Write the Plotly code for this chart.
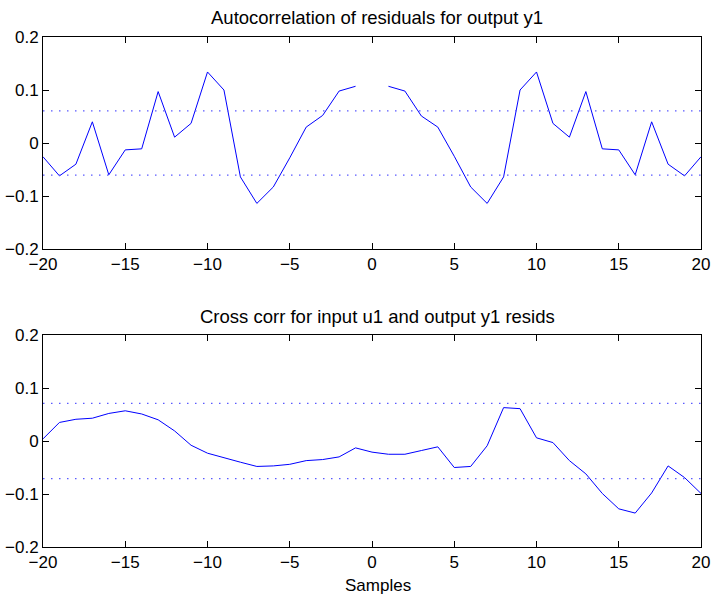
import plotly.graph_objects as go

# Lags shown on both panels
lags = list(range(-20, 21))

# Autocorrelation of the output residuals (lag 0 left out)
auto_corr = [-0.026, -0.062, -0.040, 0.040, -0.060, -0.013, -0.011, 0.097, 0.011, 0.037,
             0.134, 0.100, -0.064, -0.114, -0.083, -0.028, 0.030, 0.052, 0.098, 0.107,
             None,
             0.107, 0.098, 0.051, 0.030, -0.025, -0.083, -0.114, -0.064, 0.100, 0.134,
             0.037, 0.011, 0.097, -0.011, -0.013, -0.060, 0.040, -0.040, -0.062, -0.026]

# Cross correlation between input u1 and the output residuals
cross_corr = [0.004, 0.035, 0.041, 0.043, 0.052, 0.057, 0.051, 0.040, 0.019, -0.008,
              -0.023, -0.032, -0.040, -0.048, -0.047, -0.044, -0.037, -0.035, -0.030, -0.013,
              -0.021,
              -0.025, -0.025, -0.018, -0.011, -0.050, -0.048, -0.009, 0.063, 0.061, 0.006,
              -0.003, -0.037, -0.062, -0.099, -0.128, -0.136, -0.098, -0.047, -0.069, -0.099]

# 99% confidence bounds
auto_conf = 0.0605
cross_conf = 0.071
bound_x = [-20, 20]

x_ticks = [-20, -15, -10, -5, 0, 5, 10, 15, 20]
x_tick_text = ["\u221220", "\u221215", "\u221210", "\u22125", "0", "5", "10", "15", "20"]
y_ticks = [-0.2, -0.1, 0, 0.1, 0.2]
y_tick_text = ["\u22120.2", "\u22120.1", "0", "0.1", "0.2"]

BLUE = "#0000ff"
DOT_BLUE = "#5a5aff"
FONT = "Liberation Sans, Arial, Helvetica, sans-serif"
W, H = 712, 599

fig = go.Figure()

panels = [
    (auto_corr, auto_conf, "x", "y"),
    (cross_corr, cross_conf, "x2", "y2"),
]
for values, conf, xa, ya in panels:
    fig.add_trace(go.Scatter(x=lags, y=values, mode="lines", connectgaps=False,
                             line=dict(color=BLUE, width=1), xaxis=xa, yaxis=ya,
                             showlegend=False, hoverinfo="skip"))
    for level in (conf, -conf):
        fig.add_trace(go.Scatter(x=bound_x, y=[level, level], mode="lines",
                                 line=dict(color=DOT_BLUE, width=1.2, dash="1.5px,6.5px"),
                                 xaxis=xa, yaxis=ya, showlegend=False, hoverinfo="skip"))

x_dom = [43 / W, 701 / W]
top_dom = [1 - 249 / H, 1 - 37 / H]
bot_dom = [1 - 547 / H, 1 - 335 / H]

axis_style = dict(showline=True, linecolor="black", linewidth=1, mirror="ticks",
                  ticks="inside", ticklen=6, tickcolor="black", tickwidth=1,
                  showgrid=False, zeroline=False, automargin=False,
                  tickfont=dict(family=FONT, size=17, color="black"))

fig.update_layout(
    width=W, height=H,
    margin=dict(l=0, r=0, t=0, b=0, pad=0),
    paper_bgcolor="white", plot_bgcolor="white",
    font=dict(family=FONT, size=17, color="black"),
    xaxis=dict(domain=x_dom, range=[-20, 20], tickvals=x_ticks, ticktext=x_tick_text,
               anchor="y", **axis_style),
    yaxis=dict(domain=top_dom, range=[-0.2, 0.2], tickvals=y_ticks, ticktext=y_tick_text,
               anchor="x", **axis_style),
    xaxis2=dict(domain=x_dom, range=[-20, 20], tickvals=x_ticks, ticktext=x_tick_text,
                anchor="y2", **axis_style),
    yaxis2=dict(domain=bot_dom, range=[-0.2, 0.2], tickvals=y_ticks, ticktext=y_tick_text,
                anchor="x2", **axis_style),
    annotations=[
        dict(text="Autocorrelation of residuals for output y1", xref="paper", yref="paper",
             x=377 / W, y=1 - 18 / H, xanchor="center", yanchor="middle", showarrow=False,
             font=dict(family=FONT, size=18.5, color="black")),
        dict(text="Cross corr for input u1 and output y1 resids", xref="paper", yref="paper",
             x=377 / W, y=1 - 316 / H, xanchor="center", yanchor="middle", showarrow=False,
             font=dict(family=FONT, size=18.5, color="black")),
        dict(text="Samples", xref="paper", yref="paper",
             x=378 / W, y=1 - 585 / H, xanchor="center", yanchor="middle", showarrow=False,
             font=dict(family=FONT, size=17, color="black")),
    ],
)

fig.write_html("out.html")
